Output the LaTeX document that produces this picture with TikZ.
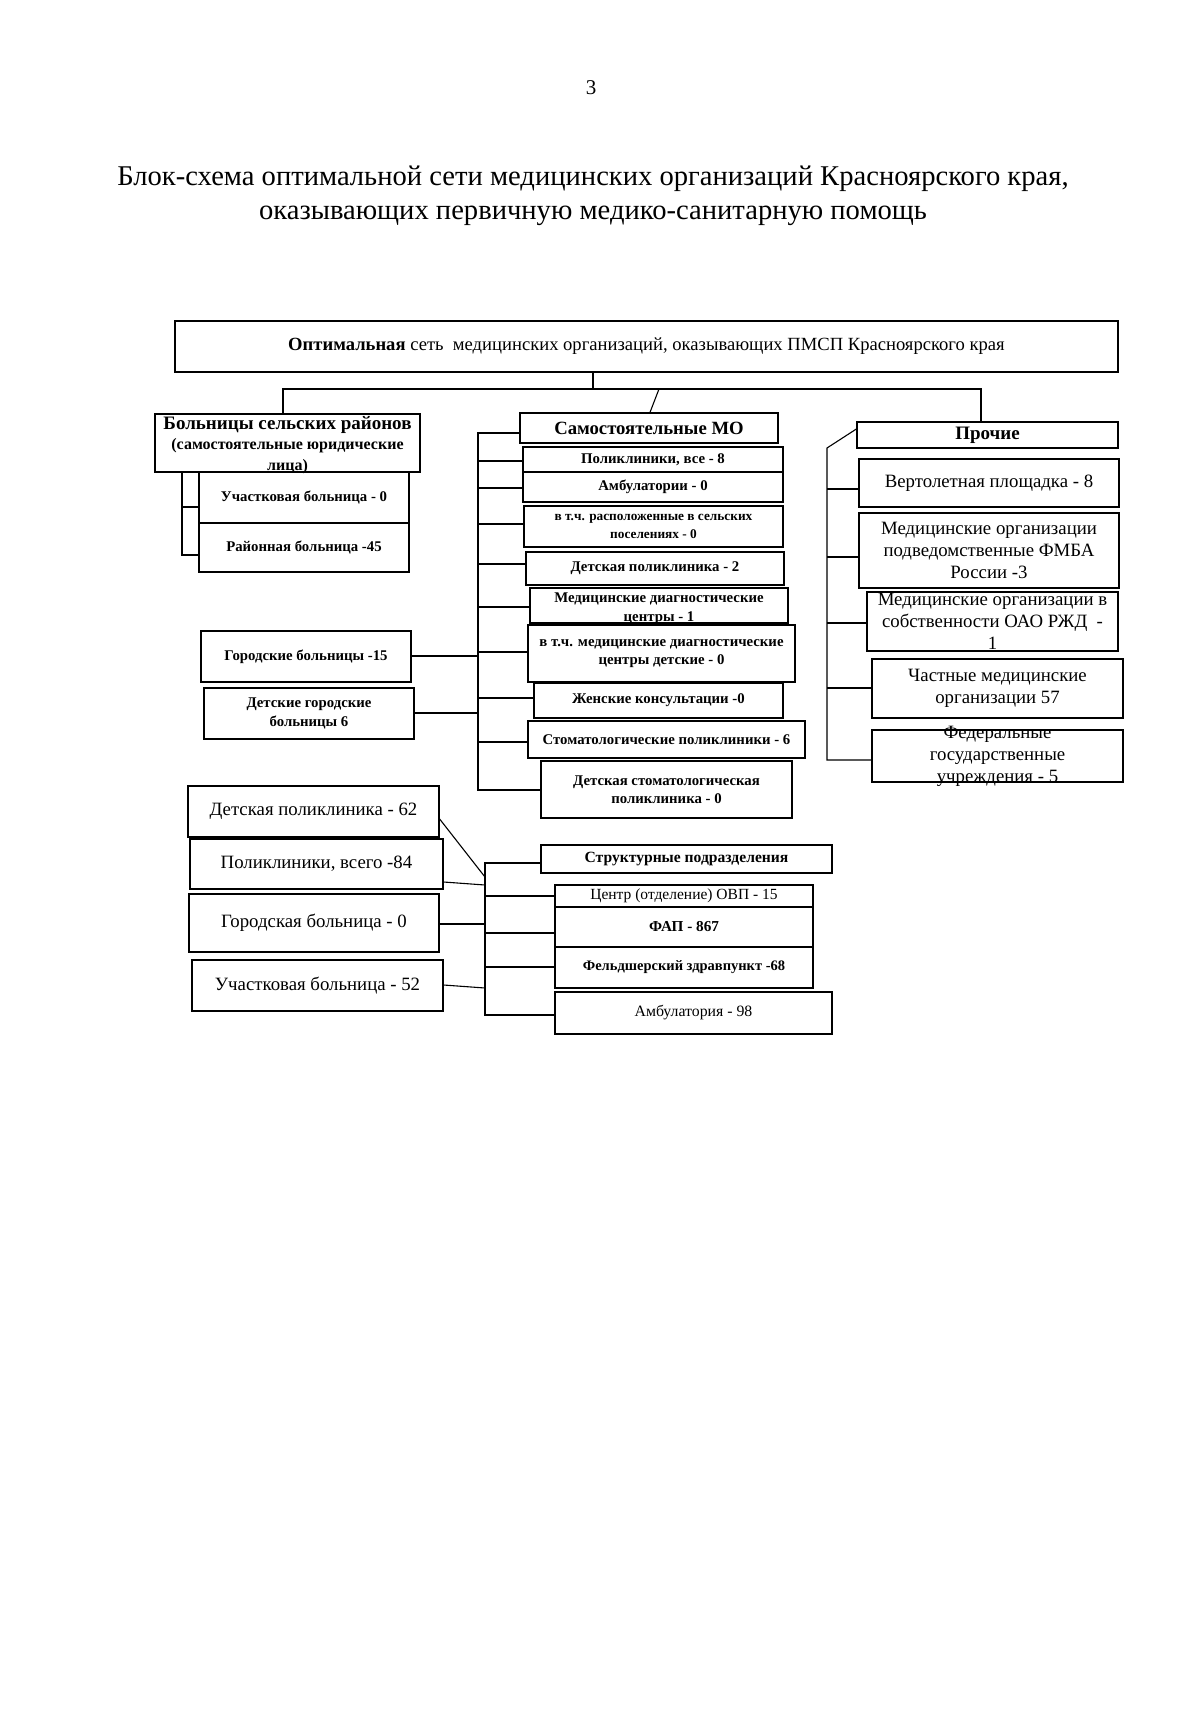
\documentclass[tikz,border=0pt]{standalone}
\usepackage{fontspec}
\setmainfont{Liberation Serif}
\newcommand\bx[7][]{%
  \node[box, minimum width={#5-#3}, minimum height={#6-#4}] (#2) at ({(#3+#5)/2},{(#4+#6)/2}) {};
  \node[lbl, #1] (#2t) at (#2.center) {#7};}
\newcommand\br[4]{% box, bracket x, y, line style
  \coordinate (#1b) at (#2,#3);
  \draw[con] (#1b) -- (#1.west |- #1b);}
\begin{document}
\begin{tikzpicture}[x=1pt,y=-1pt,
  box/.style={draw, line width=1.3pt, inner sep=0pt, rectangle},
  lbl/.style={inner sep=0pt, align=center},
  con/.style={line width=1.1pt},
  hd/.style={font=\fontsize{18.7}{21}\selectfont\bfseries},
  sb/.style={font=\fontsize{14.8}{18.5}\selectfont\bfseries},
  rg/.style={font=\fontsize{18.8}{22}\selectfont}]
\fill[white] (0,0) rectangle (1200,1717);
\useasboundingbox (0,0) rectangle (1200,1717);

\node[font=\fontsize{21}{24}\selectfont] (pg) at (591,88) {3};
\node[lbl, font=\fontsize{28.6}{34}\selectfont] (title) at (593,196)
  {Блок-схема оптимальной сети медицинских организаций Красноярского края,\\
   оказывающих первичную медико-санитарную помощь};

% top box
\bx[font=\fontsize{18.6}{20}\selectfont]{T}{175}{321}{1118}{372}
  {\textbf{Оптимальная} сеть\ \ медицинских организаций, оказывающих ПМСП Красноярского края}

% left group
\bx[font=\fontsize{16}{20.5}\selectfont\bfseries, yshift=-2pt]{B1}{155}{414}{420}{472}
  {{\fontsize{19}{20.5}\selectfont Больницы сельских районов}\\(самостоятельные юридические\\лица)}
\bx[sb]{B2}{199}{472}{409}{523}{Участковая больница - 0}
\bx[sb]{B3}{199}{523}{409}{572}{Районная больница -45}
\bx[sb]{G1}{201}{631}{411}{682}{Городские больницы -15}
\bx[sb]{G2}{204}{688}{414}{739}{Детские городские\\больницы 6}

% middle column
\bx[hd]{S0}{520}{413}{778}{443}{Самостоятельные МО}
\bx[sb]{S1}{523}{447}{783}{472}{Поликлиники, все - 8}
\bx[sb]{S2}{523}{472}{783}{502}{Амбулатории - 0}
\bx[font=\fontsize{13.3}{18}\selectfont\bfseries]{S3}{524}{506}{783}{547}{в т.ч. расположенные в сельских\\поселениях - 0}
\bx[sb]{S4}{526}{552}{784}{585}{Детская поликлиника - 2}
\bx[sb, yshift=-3pt]{S5}{530}{588}{788}{623}{Медицинские диагностические\\центры - 1}
\bx[sb]{S6}{528}{625}{795}{682}{в т.ч. медицинские диагностические\\центры детские - 0}
\bx[sb]{S7}{534}{683}{783}{718}{Женские консультации -0}
\bx[sb]{S8}{528}{721}{805}{758}{Стоматологические поликлиники - 6}
\bx[sb]{S9}{541}{761}{792}{818}{Детская стоматологическая\\поликлиника - 0}

% right column
\bx[font=\fontsize{19}{20}\selectfont\bfseries]{P0}{857}{422}{1118}{448}{Прочие}
\bx[rg]{P1}{859}{459}{1119}{507}{Вертолетная площадка - 8}
\bx[rg]{P2}{859}{513}{1119}{588}{Медицинские организации\\подведомственные ФМБА\\России -3}
\bx[rg]{P3}{867}{592}{1118}{651}{Медицинские организации в\\собственности ОАО РЖД~ -\\1}
\bx[rg]{P4}{872}{659}{1123}{718}{Частные медицинские\\организации 57}
\bx[rg]{P5}{872}{730}{1123}{782}{Федеральные\\государственные\\учреждения - 5}

% bottom left
\bx[rg]{L1}{188}{786}{439}{837}{Детская поликлиника - 62}
\bx[rg]{L2}{190}{839}{443}{889}{Поликлиники, всего -84}
\bx[rg]{L3}{189}{894}{439}{952}{Городская больница - 0}
\bx[rg]{L4}{192}{960}{443}{1011}{Участковая больница - 52}

% structural units
\bx[font=\fontsize{15.6}{18}\selectfont\bfseries]{R0}{541}{845}{832}{873}{Структурные подразделения}
\bx[font=\fontsize{15.5}{18}\selectfont]{R1}{555}{885}{813}{907}{Центр (отделение) ОВП - 15}
\bx[font=\fontsize{15.2}{18}\selectfont\bfseries]{R2}{555}{907}{813}{947}{ФАП - 867}
\bx[font=\fontsize{14.5}{18}\selectfont\bfseries]{R3}{555}{947}{813}{988}{Фельдшерский здравпункт -68}
\bx[font=\fontsize{15.8}{18}\selectfont]{R4}{555}{992}{832}{1034}{Амбулатория - 98}

% ---- top connectors
\coordinate (j0) at (593,389);
\coordinate (jl) at (283,389);
\coordinate (jr) at (981,389);
\coordinate (js) at (659,389);
\coordinate (xs) at (650,0);
\draw[con] (j0 |- T.south) -- (j0);
\draw[con] (B1.north -| jl) -- (jl) -- (jr) -- (P0.north -| jr);
\draw[con] (js) -- (xs |- S0.north);

% ---- left bracket
\coordinate (xbl) at (182,0);
\coordinate (blb) at (182,555);
\draw[con] (xbl |- B1.south) -- (blb) -- (B3.west |- blb);
\br{B2}{182}{507}{}

% ---- middle bracket
\coordinate (mtop) at (478,433);
\coordinate (mbot) at (478,790);
\draw[con] (S0.west |- mtop) -- (mtop) -- (mbot) -- (S9.west |- mbot);
\br{S1}{478}{461}{}
\br{S2}{478}{488}{}
\br{S3}{478}{524}{}
\br{S4}{478}{564}{}
\br{S5}{478}{607}{}
\br{S6}{478}{652}{}
\br{S7}{478}{698}{}
\br{S8}{478}{742}{}
\coordinate (g1b) at (478,656);
\coordinate (g2b) at (478,713);
\draw[con] (G1.east |- g1b) -- (g1b);
\draw[con] (G2.east |- g2b) -- (g2b);

% ---- right bracket
\coordinate (ptop) at (827,448);
\coordinate (pbot) at (827,760);
\coordinate (pst) at (0,429);
\draw[con] (P0.west |- pst) -- (ptop) -- (pbot) -- (P5.west |- pbot);
\br{P1}{827}{489}{}
\br{P2}{827}{557}{}
\br{P3}{827}{623}{}
\br{P4}{827}{688}{}

% ---- structural bracket
\coordinate (rtop) at (485,863);
\coordinate (rbot) at (485,1015);
\draw[con] (R0.west |- rtop) -- (rtop) -- (rbot) -- (R4.west |- rbot);
\br{R1}{485}{896}{}
\br{R2}{485}{933}{}
\br{R3}{485}{967}{}
\coordinate (l1a) at (0,819);
\coordinate (l1b) at (485,877);
\coordinate (l2a) at (0,882);
\coordinate (l2b) at (485,885);
\coordinate (l3a) at (0,924);
\coordinate (l3b) at (485,924);
\coordinate (l4a) at (0,985);
\coordinate (l4b) at (485,988);
\draw[con] (L1.east |- l1a) -- (l1b);
\draw[con] (L2.east |- l2a) -- (l2b);
\draw[con] (L3.east |- l3a) -- (l3b);
\draw[con] (L4.east |- l4a) -- (l4b);
\end{tikzpicture}
\end{document}
